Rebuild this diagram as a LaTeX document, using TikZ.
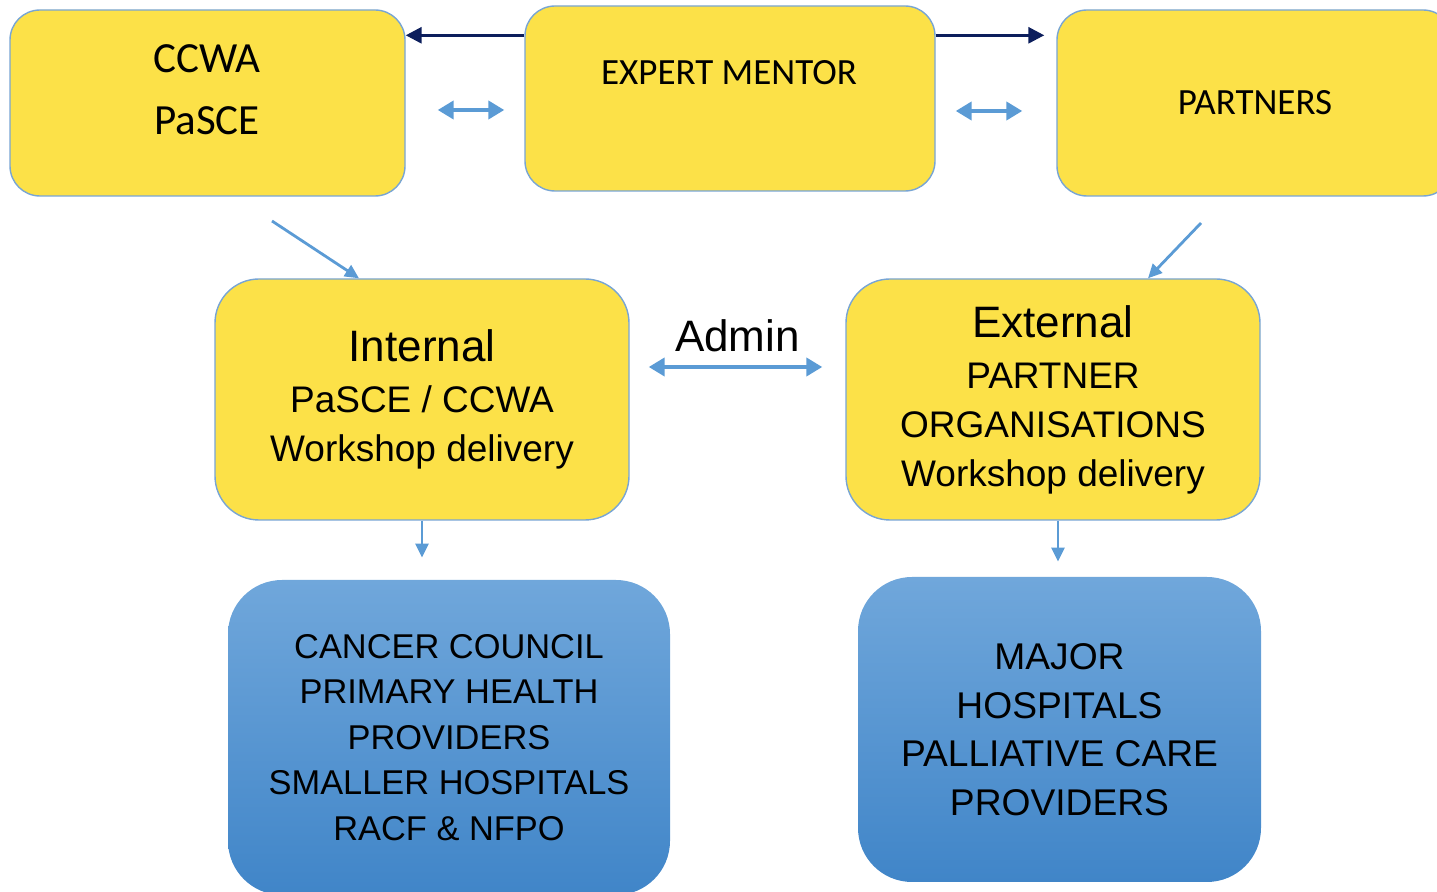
\documentclass[tikz,border=0pt]{standalone}
\usepackage{fontspec}
\setmainfont{Liberation Sans}
\newfontfamily\calibrifont{Carlito}
\usetikzlibrary{arrows.meta,positioning}

\definecolor{boxyellow}{RGB}{252,225,72}
\definecolor{boxedge}{RGB}{120,165,212}
\definecolor{arrowblue}{RGB}{91,155,213}
\definecolor{mentornavy}{RGB}{12,30,92}
\definecolor{lowtop}{RGB}{112,167,219}
\definecolor{lowbottom}{RGB}{64,133,200}

\tikzset{
	topbox/.style={draw=boxedge, line width=0.7pt, fill=boxyellow, rounded corners=15pt, align=center, font=\calibrifont\fontsize{18.5}{22}\selectfont},
	midbox/.style={draw=boxedge, line width=0.7pt, fill=boxyellow, rounded corners=22pt, minimum width=207pt, minimum height=120.5pt, align=center, font=\fontsize{18.5}{24.5}\selectfont},
	lowbox/.style={top color=lowtop, bottom color=lowbottom, draw=none, rounded corners=27pt, align=center},
	navyarrow/.style={draw=mentornavy, line width=1.5pt, -{Triangle[length=8pt,width=8pt]}},
	pairarrow/.style={draw=arrowblue, line width=2pt, {Triangle[length=8pt,width=9pt]}-{Triangle[length=8pt,width=9pt]}},
	feedarrow/.style={draw=arrowblue, line width=1.4pt, -{Triangle[length=7pt,width=6.5pt]}},
}

\begin{document}
\begin{tikzpicture}[x=0.5pt,y=-0.5pt]
					% Fix the page to the size of the picture
					\useasboundingbox (0,0) rectangle (1437,892);
					\clip (0,0) rectangle (1437,892);
					
					% Top row of boxes
					\node[topbox, minimum width=197.5pt, minimum height=93pt] (ccwa) at (207.5,103) {};
					\node[font=\calibrifont\fontsize{21.5}{31}\selectfont, align=center] (ccwa-text) at (207,90) {CCWA\\PaSCE};
					\node[topbox, minimum width=205pt, minimum height=92.5pt] (mentor) at (730,98.5) {};
					\node[font=\calibrifont\fontsize{18.5}{22}\selectfont] (mentor-text) at (729,73) {EXPERT MENTOR};
					\node[topbox, minimum width=198pt, minimum height=93pt] (partners) at (1255,103) {PARTNERS};
					
					% Workshop delivery boxes
					\node[midbox] (internal) at (422,399.5) {{\fontsize{22}{26}\selectfont Internal}\\[1pt]PaSCE / CCWA\\Workshop delivery};
					\node[midbox] (external) at (1053,399.5) {{\fontsize{22}{26}\selectfont External}\\[1pt]PARTNER\\ORGANISATIONS\\Workshop delivery};
					
					% Target groups
					\node[lowbox, minimum width=221pt, minimum height=157.5pt, font=\fontsize{17.2}{22.75}\selectfont] (lowleft) at (449,737.5) {CANCER COUNCIL\\PRIMARY HEALTH\\PROVIDERS\\SMALLER HOSPITALS\\RACF \& NFPO};
					\node[lowbox, minimum width=201.5pt, minimum height=152.5pt, font=\fontsize{18.6}{24.25}\selectfont] (lowright) at (1059.5,729.5) {MAJOR\\HOSPITALS\\PALLIATIVE CARE\\PROVIDERS};
					
					% Mentor arrows out to both sides
					\coordinate (mentor-l) at ([yshift=-15pt]mentor.north west);
					\coordinate (mentor-r) at ([yshift=-15pt]mentor.north east);
					\draw[navyarrow] (mentor-l) -- (mentor-l -| ccwa.east);
					\draw[navyarrow, shorten >=6pt] (mentor-r) -- (mentor-r -| partners.west);
					
					% Two way arrows between the top boxes
					\coordinate (pair-l) at ([yshift=-3.5pt]ccwa.east);
					\coordinate (pair-r) at ([yshift=-6.25pt]mentor.east);
					\draw[pairarrow, shorten <=16pt, shorten >=10pt] (pair-l) -- (pair-l -| mentor.west);
					\draw[pairarrow, shorten <=10pt, shorten >=17pt] (pair-r) -- (pair-r -| partners.west);
					
					% Feed into the workshop boxes
					\coordinate (ccwa-feed) at (272,221);
					\coordinate (partner-feed) at (1201,223);
					\draw[feedarrow] (ccwa-feed) -- ([xshift=-31.5pt]internal.north);
					\draw[feedarrow] (partner-feed) -- ([xshift=47.5pt]external.north);
					
					% Admin link
					\draw[pairarrow, shorten <=9.5pt, shorten >=11.5pt] ([yshift=16.25pt]internal.east) -- ([yshift=16.25pt]external.west)
						node[midway, yshift=15.5pt, font=\fontsize{22}{26}\selectfont] (admin) {Admin};
					
					% Down to the target groups
					\coordinate (ext-down) at ([xshift=2.5pt]external.south);
					\draw[feedarrow, line width=1.2pt, shorten >=11pt] (internal.south) -- (internal.south |- lowleft.north);
					\draw[feedarrow, line width=1.2pt, shorten >=7.5pt] (ext-down) -- (ext-down |- lowright.north);
\end{tikzpicture}
\end{document}
